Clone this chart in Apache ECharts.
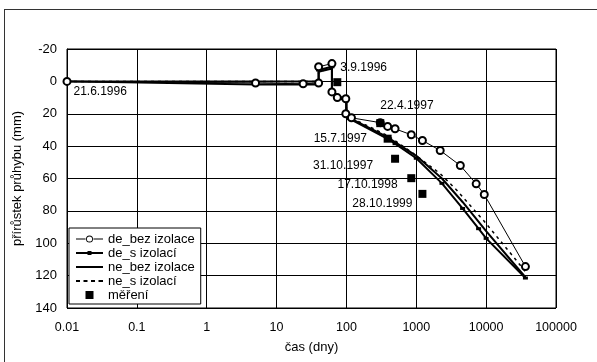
<!DOCTYPE html>
<html>
<head>
<meta charset="utf-8">
<script src="https://cdn.jsdelivr.net/npm/echarts@6/dist/echarts.min.js"></script>
<style>
  html, body { margin: 0; padding: 0; background: #fff; }
  #wrap { position: relative; width: 597px; height: 362px; overflow: hidden; }
  #frame { position: absolute; left: 4px; top: 9px; width: 700px; height: 500px; border: 1.5px solid #333; box-sizing: border-box; }
  #chart { position: absolute; left: 0; top: 0; width: 597px; height: 362px; }
</style>
</head>
<body>
<div id="wrap"><div id="frame"></div><div id="chart"></div></div>
<script>
// cas (dny) / prirustek pruhybu (mm)
const deBezDays = [0.01, 5, 24, 40, 40, 62, 62, 74, 98, 98, 118, 305, 389, 497, 848, 1224, 2200, 4270, 7200, 9400, 36500];
const deBezValues = [0, 1, 1.5, 1, -9, -11, 6.5, 10, 10.7, 20, 22.5, 25.5, 27.8, 29.3, 33, 36.5, 42.7, 52, 63.3, 69.9, 114.4];

const deSDays = [0.01, 5, 24, 40, 40, 62, 62, 74, 100, 100, 110, 389, 497, 1000, 2330, 4600, 7800, 10000, 36500];
const deSValues = [0, 2, 2, 2, -7, -9, 6, 10, 12, 20, 23, 35.5, 38.5, 47.5, 63, 78.5, 91, 97, 121.5];

const neBezDays = [0.01, 40, 40, 62, 62, 74, 100, 100, 110, 389, 1000, 2330, 4600, 10000, 36500];
const neBezValues = [0, 0, -6, -8, 5, 9, 11, 20, 22.5, 34.5, 46, 60, 74.5, 92.5, 121];

const neSDays = [0.01, 40, 40, 62, 62, 74, 100, 100, 110, 389, 916, 2200, 3830, 9190, 19860, 36500];
const neSValues = [0, 0, -6, -8, 5, 9, 11, 20, 22, 33.5, 44.7, 57, 67.4, 86, 103.5, 117.5];

const measDays = [74, 305, 389, 497, 848, 1224];
const measValues = [0.5, 25.8, 35.4, 47.8, 59.8, 69.5];
const measDates = ['3.9.1996', '22.4.1997', '15.7.1997', '31.10.1997', '17.10.1998', '28.10.1999'];
const startDate = '21.6.1996';

const yTicks = { min: -20, max: 140, step: 20 };
const xTicks = { min: 0.01, max: 100000 };

// where each date label sits next to its square
const measLabelPlace = [
    { position: 'right', offset: [-1, -14] },
    { position: 'right', offset: [-4, -17.7] },
    { position: 'left', offset: [-16.6, 0] },
    { position: 'left', offset: [-18, 6.7] },
    { position: 'left', offset: [-9.7, 6.3] },
    { position: 'left', offset: [-6, 10] }
];

const font = "'Liberation Sans', Arial, sans-serif";

function pairs(xs, ys) {
    return xs.map((x, i) => [x, ys[i]]);
}

const deBezData = pairs(deBezDays, deBezValues);
deBezData[0] = {
    value: deBezData[0],
    label: { show: true, formatter: startDate, position: 'right', distance: 2, offset: [0, 10], fontSize: 12, color: '#000', fontFamily: font }
};

const measData = measDays.map((d, i) => ({
    value: [d, measValues[i]],
    label: {
        show: true,
        formatter: measDates[i],
        position: measLabelPlace[i].position,
        distance: 0,
        offset: measLabelPlace[i].offset
    }
}));

const chart = echarts.init(document.getElementById('chart'));

const legendStyle = { color: '#000', borderWidth: 0, opacity: 1 };

const option = {
    animation: false,
    textStyle: { fontFamily: font },
    grid: {
        left: 67, right: 41, top: 49, bottom: 54,
        show: true, borderColor: '#000', borderWidth: 1, backgroundColor: '#fff'
    },
    legend: {
        orient: 'vertical',
        left: 69, top: 228,
        padding: [4, 6, 2, 7],
        itemGap: 0,
        itemWidth: 27,
        itemHeight: 10,
        backgroundColor: '#fff',
        borderColor: '#000',
        borderWidth: 1,
        borderRadius: 0,
        textStyle: { fontSize: 13, color: '#000', lineHeight: 14, fontFamily: font },
        data: [
            { name: 'de_bez izolace', icon: 'path://M0,4h9.6v1h-9.6zM17.4,4h9.6v1h-9.6zM13.5,1a3.5,3.5 0 1,1 0,7a3.5,3.5 0 1,1 0,-7zM13.5,1.9a2.6,2.6 0 1,0 0,5.2a2.6,2.6 0 1,0 0,-5.2z', itemStyle: legendStyle },
            { name: 'de_s izolací', icon: 'path://M0,1h27v2h-27zM11.5,0h4v4h-4z', itemStyle: legendStyle },
            { name: 'ne_bez izolace', icon: 'path://M0,0h27v2h-27z', itemStyle: legendStyle },
            { name: 'ne_s izolací', icon: 'path://M0,0h4v2h-4zM7.5,0h4v2h-4zM15,0h4v2h-4zM22.5,0h4.5v2h-4.5z', itemStyle: legendStyle },
            { name: 'měření', icon: 'path://M-1,-1M0,0h8v8h-8zM9,9', itemStyle: legendStyle }
        ]
    },
    xAxis: {
        type: 'log',
        logBase: 10,
        min: xTicks.min,
        max: xTicks.max,
        name: 'čas (dny)',
        nameLocation: 'middle',
        nameGap: 33,
        nameTextStyle: { fontSize: 13, color: '#000', fontFamily: font },
        axisLine: { lineStyle: { color: '#000', width: 1 } },
        axisTick: { show: false },
        minorTick: { show: false },
        axisLabel: {
            fontSize: 12.5, color: '#000', margin: 13, fontFamily: font,
            formatter: v => String(+Number(v).toPrecision(6))
        },
        splitLine: { show: true, lineStyle: { color: '#000', width: 1 } }
    },
    yAxis: {
        type: 'value',
        inverse: true,
        min: yTicks.min,
        max: yTicks.max,
        interval: yTicks.step,
        name: 'přírůstek průhybu (mm)',
        nameLocation: 'middle',
        nameGap: 36,
        nameTextStyle: { fontSize: 13, color: '#000', fontFamily: font },
        axisLine: { show: true, lineStyle: { color: '#000', width: 1 } },
        axisTick: { show: false },
        axisLabel: { fontSize: 13, color: '#000', margin: 10, fontFamily: font },
        splitLine: { show: true, lineStyle: { color: '#000', width: 1 } }
    },
    series: [
        {
            name: 'ne_bez izolace',
            type: 'line',
            clip: false,
            symbol: 'none',
            lineStyle: { color: '#000', width: 2 },
            itemStyle: { color: '#000' },
            data: pairs(neBezDays, neBezValues),
            z: 3
        },
        {
            name: 'ne_s izolací',
            type: 'line',
            clip: false,
            symbol: 'none',
            lineStyle: { color: '#000', width: 1.5, type: [3, 4] },
            itemStyle: { color: '#000' },
            data: pairs(neSDays, neSValues),
            z: 3
        },
        {
            name: 'de_s izolací',
            type: 'line',
            clip: false,
            symbol: 'rect',
            symbolSize: [5, 3],
            showAllSymbol: true,
            lineStyle: { color: '#000', width: 2 },
            itemStyle: { color: '#000' },
            data: pairs(deSDays, deSValues),
            z: 4
        },
        {
            name: 'de_bez izolace',
            type: 'line',
            clip: false,
            symbol: 'emptyCircle',
            symbolSize: 7,
            showAllSymbol: true,
            lineStyle: { color: '#000', width: 1 },
            itemStyle: { color: '#000', borderColor: '#000', borderWidth: 1 },
            data: deBezData,
            z: 5
        },
        {
            name: 'měření',
            type: 'scatter',
            clip: false,
            symbol: 'rect',
            symbolSize: 8,
            itemStyle: { color: '#000', opacity: 1 },
            label: { fontSize: 12, color: '#000', fontFamily: font },
            data: measData,
            z: 6
        }
    ]
};

chart.setOption(option);
</script>
</body>
</html>
